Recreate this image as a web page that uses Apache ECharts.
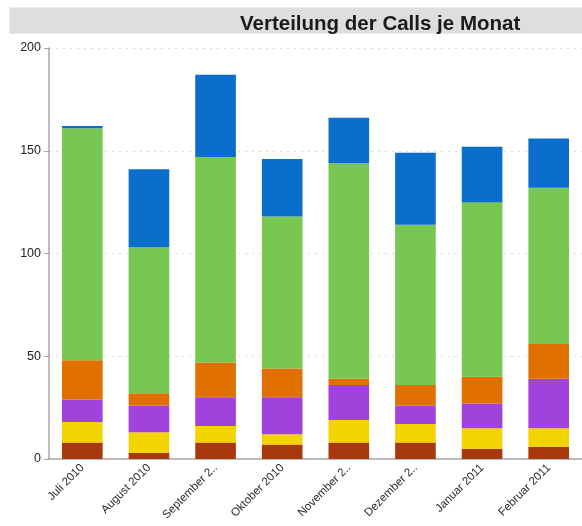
<!DOCTYPE html>
<html>
<head>
<meta charset="utf-8">
<script src="https://cdn.jsdelivr.net/npm/echarts@6/dist/echarts.min.js"></script>
<style>
html,body{margin:0;padding:0;background:#fff;}
#chart{width:582px;height:526px;}
</style>
</head>
<body>
<div id="chart"></div>
<script>
const title = 'Verteilung der Calls je Monat';
const categories = ['Juli 2010','August 2010','September 2010','Oktober 2010','November 2010','Dezember 2010','Januar 2011','Februar 2011'];
const yTicks = [0, 50, 100, 150, 200];
const seriesNames = ['Kategorie 1','Kategorie 2','Kategorie 3','Kategorie 4','Kategorie 5','Kategorie 6'];
const s1 = [8, 3, 8, 7, 8, 8, 5, 6];
const s2 = [10, 10, 8, 5, 11, 9, 10, 9];
const s3 = [11, 13, 14, 18, 17, 9, 12, 24];
const s4 = [19, 6, 17, 14, 3, 10, 13, 17];
const s5 = [113, 71, 100, 74, 105, 78, 85, 76];
const s6 = [1, 38, 40, 28, 22, 35, 27, 24];
const colors = ['#a8390f','#f2d500','#a142dc','#e07000','#79c753','#0b6ecd'];
const values = [s1, s2, s3, s4, s5, s6];

const chart = echarts.init(document.getElementById('chart'));
chart.setOption({
  animation: false,
  graphic: [{
    type: 'rect', left: 9, top: 7, z: -1,
    shape: {width: 573, height: 26},
    style: {fill: '#dedede', stroke: '#ececec', lineWidth: 1}
  }],
  title: {
    text: title, left: 235, top: 9,
    textStyle: {fontFamily: 'Liberation Sans, Arial, sans-serif', fontSize: 20.5, fontWeight: 'bold', color: '#1a1a1a'}
  },
  grid: {left: 49, right: -4, top: 48, bottom: 67, containLabel: false},
  xAxis: {
    type: 'category', data: categories,
    axisLine: {lineStyle: {color: '#a8a8a8', width: 1.5}},
    axisTick: {alignWithLabel: true, length: 4, lineStyle: {color: '#a8a8a8'}},
    axisLabel: {
      rotate: 45, interval: 0, margin: 7,
      fontFamily: 'Liberation Sans, Arial, sans-serif', fontSize: 11.5, color: '#2a2a2a',
      formatter: v => v.length > 12 ? v.slice(0, -3) + '..' : v
    }
  },
  yAxis: {
    type: 'value', min: yTicks[0], max: yTicks[yTicks.length - 1], interval: 50,
    axisLine: {show: true, lineStyle: {color: '#a8a8a8', width: 1.5}},
    axisTick: {show: true, length: 5, lineStyle: {color: '#a8a8a8'}},
    axisLabel: {fontFamily: 'Liberation Sans, Arial, sans-serif', fontSize: 12.5, color: '#222', margin: 8},
    splitLine: {show: true, lineStyle: {color: '#d8d8d8', type: [2, 5], width: 1}}
  },
  series: values.map((d, i) => ({
    name: seriesNames[i], type: 'bar', stack: 'all', data: d,
    barWidth: '61%',
    itemStyle: {color: colors[i]}
  }))
});
</script>
</body>
</html>
